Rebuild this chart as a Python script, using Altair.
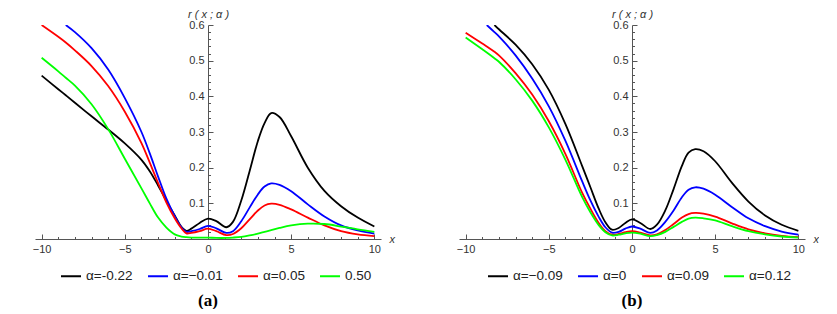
import altair as alt
import pandas as pd

# ---------------- data ----------------
XA = [-10, -9, -8.55, -8, -7, -6, -5, -4, -3.5, -3, -2.5, -2, -1.6, -1.3, -1, -0.5, 0,
      0.5, 1.1, 1.5, 2, 2.5, 3, 3.4, 3.8, 4.3, 5, 6, 7, 8, 9, 10]
A_BLACK = [0.458, 0.42, 0.403, 0.382, 0.344, 0.307, 0.268, 0.222, 0.19, 0.15, 0.107,
           0.066, 0.034, 0.023, 0.029, 0.045, 0.057, 0.05, 0.033, 0.048, 0.108, 0.19,
           0.275, 0.325, 0.353, 0.342, 0.288, 0.2, 0.135, 0.092, 0.06, 0.035]
A_BLUE = [None, None, 0.6, 0.58, 0.535, 0.475, 0.395, 0.3, 0.24, 0.175, 0.113, 0.064,
          0.033, 0.02, 0.022, 0.028, 0.037, 0.03, 0.017, 0.022, 0.05, 0.088, 0.125,
          0.147, 0.156, 0.152, 0.134, 0.097, 0.063, 0.038, 0.024, 0.015]
A_RED = [0.6, 0.567, 0.551, 0.529, 0.485, 0.429, 0.357, 0.269, 0.214, 0.157, 0.102,
         0.058, 0.03, 0.016, 0.017, 0.022, 0.029, 0.022, 0.011, 0.014, 0.03, 0.055,
         0.08, 0.094, 0.099, 0.096, 0.083, 0.06, 0.038, 0.022, 0.013, 0.008]
A_GREEN = [0.508, 0.47, 0.452, 0.43, 0.378, 0.308, 0.225, 0.142, 0.1, 0.06, 0.032,
           0.013, 0.007, 0.005, 0.004, 0.004, 0.004, 0.003, 0.003, 0.004, 0.006, 0.01,
           0.015, 0.02, 0.025, 0.031, 0.038, 0.043, 0.042, 0.035, 0.027, 0.02]
LABELS_A = ["α=-0.22", "α=−0.01", "α=0.05", "0.50"]

XB = [-10, -9, -8.73, -8.27, -8, -7, -6, -5, -4, -3, -2.5, -2, -1.6, -1.2, -0.8, -0.4,
      0, 0.5, 1.1, 1.5, 2, 2.5, 3, 3.4, 3.8, 4.3, 5, 6, 7, 8, 9, 10]
B_BLACK = [None, None, None, 0.6, 0.588, 0.545, 0.49, 0.418, 0.322, 0.205, 0.145, 0.085,
           0.047, 0.026, 0.031, 0.045, 0.055, 0.045, 0.028, 0.04, 0.08, 0.14, 0.205,
           0.242, 0.252, 0.246, 0.218, 0.158, 0.105, 0.066, 0.04, 0.023]
B_BLUE = [None, None, 0.6, 0.58, 0.568, 0.515, 0.45, 0.372, 0.275, 0.162, 0.108, 0.062,
          0.033, 0.018, 0.02, 0.029, 0.035, 0.029, 0.017, 0.024, 0.048, 0.08, 0.117,
          0.138, 0.145, 0.141, 0.124, 0.09, 0.058, 0.036, 0.021, 0.012]
B_RED = [0.578, 0.548, 0.54, 0.525, 0.515, 0.465, 0.405, 0.33, 0.238, 0.13, 0.085, 0.045,
         0.022, 0.012, 0.014, 0.019, 0.022, 0.018, 0.01, 0.013, 0.025, 0.042, 0.06,
         0.07, 0.073, 0.071, 0.063, 0.044, 0.027, 0.016, 0.009, 0.005]
B_GREEN = [0.565, 0.532, 0.523, 0.507, 0.497, 0.448, 0.388, 0.313, 0.222, 0.118, 0.075,
           0.039, 0.019, 0.01, 0.012, 0.016, 0.018, 0.015, 0.008, 0.011, 0.02, 0.034,
           0.048, 0.057, 0.06, 0.058, 0.052, 0.036, 0.022, 0.013, 0.007, 0.004]
LABELS_B = ["α=−0.09", "α=0", "α=0.09", "α=0.12"]

COLORS = ["#000000", "#0000ff", "#ff0000", "#00ff00"]
X_TICKS = list(range(-10, 11))
Y_TICKS = [round(0.02 * i, 2) for i in range(1, 31)]
X_DOMAIN = [-10.4, 10.4]
Y_DOMAIN = [0, 0.6]

# ---------------- style ----------------
W, H = 346, 214
FONT = "Liberation Sans"
AXIS_C = "#555555"
LABEL_C = "#333333"
Y_OFFSET = -W * (0 - X_DOMAIN[0]) / (X_DOMAIN[1] - X_DOMAIN[0])

x_test = "datum.value % 5 === 0"
y_test = "abs(datum.value * 10 - round(datum.value * 10)) < 0.001"


def panel(xs, series, labels, tag, legend_x):
    rows = []
    for lab, ys in zip(labels, series):
        for xv, yv in zip(xs, ys):
            rows.append({"x": xv, "y": yv, "s": lab})
    df = pd.DataFrame(rows)

    x_axis = alt.Axis(
        orient="top", offset=-H, values=X_TICKS,
        labelExpr=f"{x_test} ? datum.label : ''",
        tickSize={"condition": {"test": x_test, "value": 5}, "value": 2.5},
        labelBaseline="top", labelPadding=-9, labelAlign="center",
        labelOverlap=False, labelFlush=False, grid=False,
        domainColor=AXIS_C, tickColor=AXIS_C, labelColor=LABEL_C,
        labelFont=FONT, labelFontSize=11,
        title="x", titleFont=FONT, titleFontStyle="italic", titleFontWeight="normal",
        titleFontSize=11, titleColor=LABEL_C, titleAngle=0, titleAlign="left",
        titleBaseline="alphabetic", titleX=W + 8, titleY=3,
    )
    y_axis = alt.Axis(
        orient="right", offset=Y_OFFSET, values=Y_TICKS, format=".1f",
        labelExpr=f"{y_test} ? datum.label : ''",
        tickSize={"condition": {"test": y_test, "value": 5}, "value": 2.5},
        labelAlign="right", labelBaseline="middle", labelPadding=-9,
        labelOverlap=False, grid=False,
        domainColor=AXIS_C, tickColor=AXIS_C, labelColor=LABEL_C,
        labelFont=FONT, labelFontSize=11,
        title="r ( x ; α )", titleFont=FONT, titleFontStyle="italic",
        titleFontWeight="normal", titleFontSize=11, titleColor=LABEL_C,
        titleAngle=0, titleAlign="center", titleBaseline="alphabetic",
        titleX=0, titleY=-8,
    )
    legend = alt.Legend(
        orient="none", legendX=legend_x, legendY=240, direction="horizontal",
        title=None, symbolType="stroke", symbolSize=400, symbolStrokeWidth=2,
        labelFont=FONT, labelFontSize=13.5, labelColor="#222222", labelOffset=4,
        columnPadding=11, padding=0, labelLimit=0,
    )
    return (
        alt.Chart(df)
        .mark_line(interpolate="catmull-rom", strokeWidth=1.8, clip=True)
        .encode(
            x=alt.X("x:Q", scale=alt.Scale(domain=X_DOMAIN, nice=False, zero=False), axis=x_axis),
            y=alt.Y("y:Q", scale=alt.Scale(domain=Y_DOMAIN, nice=False), axis=y_axis),
            color=alt.Color("s:N", scale=alt.Scale(domain=labels, range=COLORS), legend=legend),
        )
        .properties(
            width=W, height=H,
            title=alt.TitleParams(
                text=tag, orient="bottom", anchor="middle", frame="group",
                font="Liberation Serif", fontSize=17, fontWeight="bold",
                color="#000000", offset=10,
            ),
        )
    )


pa = panel(XA, [A_BLACK, A_BLUE, A_RED, A_GREEN], LABELS_A, "(a)", 25)
pb = panel(XB, [B_BLACK, B_BLUE, B_RED, B_GREEN], LABELS_B, "(b)", 28)

chart = (
    alt.hconcat(pa, pb, spacing=78, bounds="flush")
    .resolve_scale(color="independent")
    .resolve_legend(color="independent")
    .properties(padding={"left": 24, "top": 0, "right": 0, "bottom": 0})
    .configure_view(stroke=None)
)

chart.save("out.html", embed_options={"renderer": "svg", "actions": False})
